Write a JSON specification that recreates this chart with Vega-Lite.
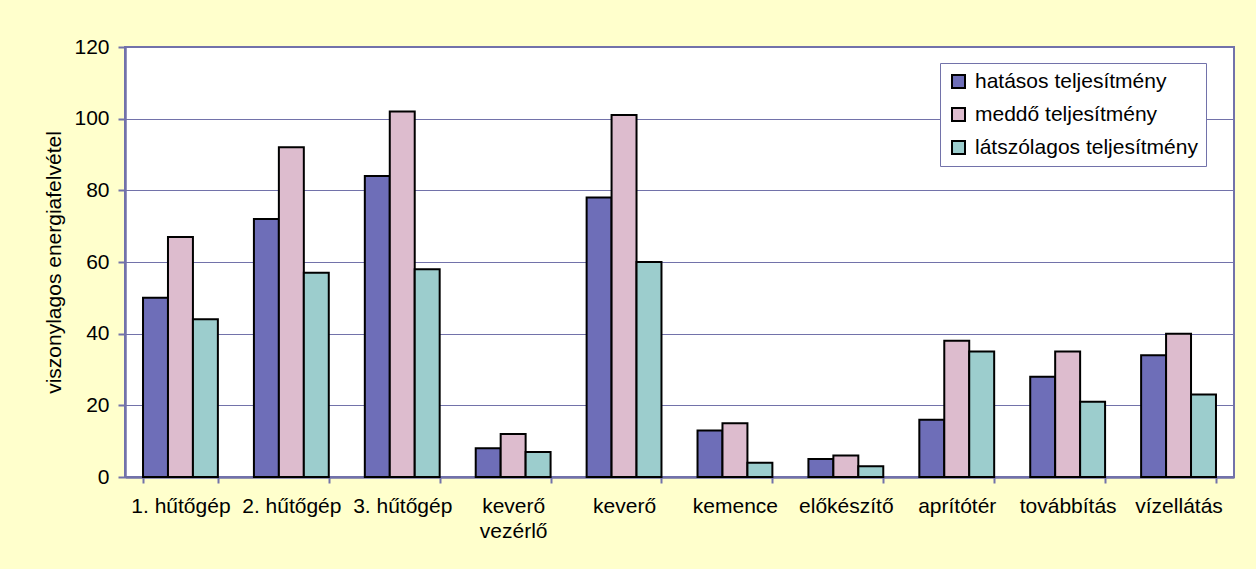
{
  "$schema": "https://vega.github.io/schema/vega-lite/v6.json",
  "width": 1109,
  "height": 430,
  "autosize": {"type": "none"},
  "padding": {"left": 125, "top": 47, "right": 22, "bottom": 92},
  "background": "#FFFFCC",
  "config": {
    "font": "Liberation Sans",
    "view": {"fill": "white", "stroke": "#7272AA", "strokeWidth": 2}
  },
  "data": {
    "values": [
      {"kategoria": "1. hűtőgép", "sorozat": "hatásos teljesítmény", "ertek": 50},
      {"kategoria": "1. hűtőgép", "sorozat": "meddő teljesítmény", "ertek": 67},
      {"kategoria": "1. hűtőgép", "sorozat": "látszólagos teljesítmény", "ertek": 44},
      {"kategoria": "2. hűtőgép", "sorozat": "hatásos teljesítmény", "ertek": 72},
      {"kategoria": "2. hűtőgép", "sorozat": "meddő teljesítmény", "ertek": 92},
      {"kategoria": "2. hűtőgép", "sorozat": "látszólagos teljesítmény", "ertek": 57},
      {"kategoria": "3. hűtőgép", "sorozat": "hatásos teljesítmény", "ertek": 84},
      {"kategoria": "3. hűtőgép", "sorozat": "meddő teljesítmény", "ertek": 102},
      {"kategoria": "3. hűtőgép", "sorozat": "látszólagos teljesítmény", "ertek": 58},
      {"kategoria": "keverő vezérlő", "sorozat": "hatásos teljesítmény", "ertek": 8},
      {"kategoria": "keverő vezérlő", "sorozat": "meddő teljesítmény", "ertek": 12},
      {"kategoria": "keverő vezérlő", "sorozat": "látszólagos teljesítmény", "ertek": 7},
      {"kategoria": "keverő", "sorozat": "hatásos teljesítmény", "ertek": 78},
      {"kategoria": "keverő", "sorozat": "meddő teljesítmény", "ertek": 101},
      {"kategoria": "keverő", "sorozat": "látszólagos teljesítmény", "ertek": 60},
      {"kategoria": "kemence", "sorozat": "hatásos teljesítmény", "ertek": 13},
      {"kategoria": "kemence", "sorozat": "meddő teljesítmény", "ertek": 15},
      {"kategoria": "kemence", "sorozat": "látszólagos teljesítmény", "ertek": 4},
      {"kategoria": "előkészítő", "sorozat": "hatásos teljesítmény", "ertek": 5},
      {"kategoria": "előkészítő", "sorozat": "meddő teljesítmény", "ertek": 6},
      {"kategoria": "előkészítő", "sorozat": "látszólagos teljesítmény", "ertek": 3},
      {"kategoria": "aprítótér", "sorozat": "hatásos teljesítmény", "ertek": 16},
      {"kategoria": "aprítótér", "sorozat": "meddő teljesítmény", "ertek": 38},
      {"kategoria": "aprítótér", "sorozat": "látszólagos teljesítmény", "ertek": 35},
      {"kategoria": "továbbítás", "sorozat": "hatásos teljesítmény", "ertek": 28},
      {"kategoria": "továbbítás", "sorozat": "meddő teljesítmény", "ertek": 35},
      {"kategoria": "továbbítás", "sorozat": "látszólagos teljesítmény", "ertek": 21},
      {"kategoria": "vízellátás", "sorozat": "hatásos teljesítmény", "ertek": 34},
      {"kategoria": "vízellátás", "sorozat": "meddő teljesítmény", "ertek": 40},
      {"kategoria": "vízellátás", "sorozat": "látszólagos teljesítmény", "ertek": 23}
    ]
  },
  "mark": {"type": "bar", "stroke": "black", "strokeWidth": 2},
  "encoding": {
    "x": {
      "field": "kategoria",
      "type": "nominal",
      "sort": ["1. hűtőgép", "2. hűtőgép", "3. hűtőgép", "keverő vezérlő", "keverő", "kemence", "előkészítő", "aprítótér", "továbbítás", "vízellátás"],
      "scale": {"paddingInner": 0.325, "paddingOuter": 0.1625},
      "axis": {
        "title": null,
        "labelAngle": 0,
        "tickBand": "extent",
        "domainColor": "#7272AA",
        "domainWidth": 2.5,
        "tickColor": "#7272AA",
        "tickWidth": 2,
        "tickSize": 6,
        "labelFontSize": 21,
        "labelColor": "black",
        "labelPadding": 12,
        "labelLineHeight": 25,
        "labelOverlap": false,
        "labelLimit": 0,
        "labelExpr": "datum.value == 'keverő vezérlő' ? ['keverő', 'vezérlő'] : datum.value",
        "grid": false
      }
    },
    "xOffset": {
      "field": "sorozat",
      "type": "nominal",
      "sort": ["hatásos teljesítmény", "meddő teljesítmény", "látszólagos teljesítmény"],
      "scale": {"paddingInner": 0, "paddingOuter": 0}
    },
    "y": {
      "field": "ertek",
      "type": "quantitative",
      "scale": {"domain": [0, 120], "nice": false},
      "axis": {
        "values": [0, 20, 40, 60, 80, 100, 120],
        "title": "viszonylagos energiafelvétel",
        "titleFontSize": 21,
        "titleFontWeight": "normal",
        "titleColor": "black",
        "titlePadding": 9,
        "grid": true,
        "gridColor": "#7272AA",
        "gridWidth": 1.2,
        "domainColor": "#7272AA",
        "domainWidth": 2.5,
        "tickColor": "#7272AA",
        "tickWidth": 2,
        "tickSize": 7,
        "labelFontSize": 21,
        "labelColor": "black",
        "labelPadding": 9
      }
    },
    "fill": {
      "field": "sorozat",
      "type": "nominal",
      "scale": {
        "domain": ["hatásos teljesítmény", "meddő teljesítmény", "látszólagos teljesítmény"],
        "range": ["#6E6EB8", "#DDBCCE", "#9CCDCD"]
      },
      "legend": {
        "title": null,
        "orient": "none",
        "legendX": 815,
        "legendY": 16,
        "fillColor": "white",
        "strokeColor": "#7272AA",
        "padding": 8,
        "rowPadding": 11,
        "symbolType": "square",
        "symbolSize": 169,
        "symbolStrokeColor": "black",
        "symbolStrokeWidth": 2,
        "labelFontSize": 21,
        "labelColor": "black",
        "labelOffset": 6,
        "labelLimit": 0
      }
    }
  }
}
